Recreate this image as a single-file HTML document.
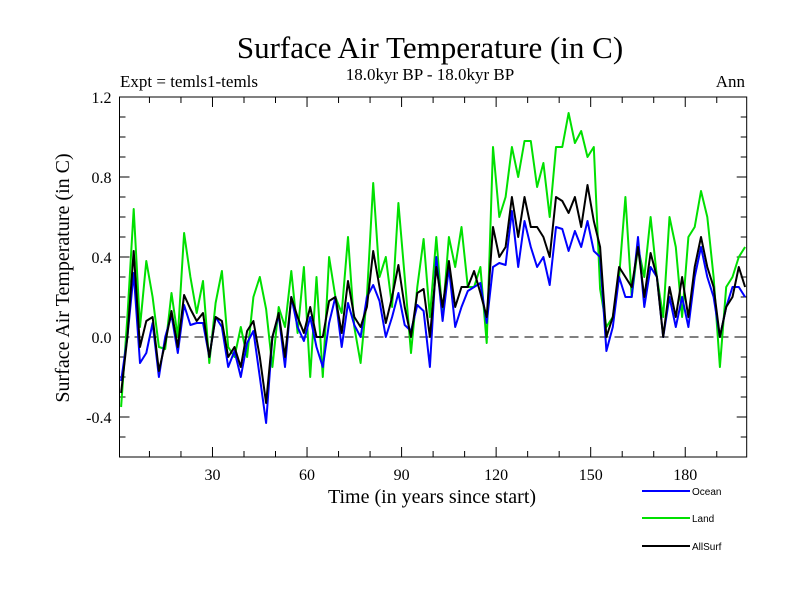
<!DOCTYPE html>
<html><head><meta charset="utf-8"><style>
body{margin:0;background:#fff}
svg text{font-family:"Liberation Serif",serif}
</style></head><body>
<svg id="chart" width="800" height="600" xmlns="http://www.w3.org/2000/svg">
<text x="430" y="58" font-size="31" text-anchor="middle">Surface Air Temperature (in C)</text>
<text x="430" y="80" font-size="17" text-anchor="middle">18.0kyr BP - 18.0kyr BP</text>
<text x="120" y="87" font-size="17">Expt = temls1-temls</text>
<text x="745" y="87" font-size="17" text-anchor="end">Ann</text>
<text transform="translate(69,278) rotate(-90)" font-size="20" text-anchor="middle">Surface Air Temperature (in C)</text>
<text x="432" y="503" font-size="20" text-anchor="middle">Time (in years since start)</text>
<g id="axes"></g>
<g id="series"></g>
<g font-family="Liberation Sans" >
<line x1="642" y1="491" x2="690" y2="491" stroke="#0000ff" stroke-width="2"/>
<text x="692" y="495" font-size="10" style="font-family:'Liberation Sans',sans-serif">Ocean</text>
<line x1="642" y1="518" x2="690" y2="518" stroke="#00e000" stroke-width="2"/>
<text x="692" y="522" font-size="10" style="font-family:'Liberation Sans',sans-serif">Land</text>
<line x1="642" y1="546" x2="690" y2="546" stroke="#000" stroke-width="2"/>
<text x="692" y="550" font-size="10" style="font-family:'Liberation Sans',sans-serif">AllSurf</text>
</g>
</svg>
<script>
const years=[];for(let y=1;y<=199;y+=2)years.push(y);
const land=[-0.35,0.1,0.64,0.05,0.38,0.2,-0.05,-0.06,0.22,0.0,0.52,0.3,0.12,0.28,-0.13,0.17,0.33,-0.05,-0.1,0.05,-0.1,0.2,0.3,0.14,
-0.15,0.15,0.05,0.33,0.02,0.35,-0.2,0.3,-0.2,0.4,0.2,0.12,0.5,0.05,-0.13,0.2,0.77,0.3,0.4,0.15,0.67,0.3,-0.08,0.25,0.49,
0.1,0.5,0.1,0.5,0.35,0.55,0.25,0.25,0.35,-0.03,0.95,0.6,0.7,0.95,0.8,0.98,0.98,0.75,0.87,0.6,0.95,0.95,1.12,0.97,1.03,0.9,
0.95,0.24,0.05,0.1,0.3,0.7,0.2,0.45,0.3,0.6,0.3,0.1,0.6,0.45,0.1,0.5,0.55,0.73,0.6,0.3,-0.15,0.25,0.3,0.4,0.45];
const ocean=[-0.22,0.0,0.32,-0.13,-0.08,0.07,-0.2,0.0,0.11,-0.08,0.16,0.06,0.07,0.07,-0.1,0.1,0.05,-0.15,-0.07,-0.2,-0.03,0.03,-0.2,-0.43,
0.0,0.11,-0.15,0.2,0.05,-0.02,0.1,-0.05,-0.15,0.07,0.2,-0.05,0.17,0.06,0.0,0.2,0.26,0.18,0.0,0.1,0.22,0.06,0.03,0.16,0.13,
-0.15,0.4,0.08,0.35,0.05,0.15,0.23,0.25,0.27,0.07,0.35,0.37,0.36,0.63,0.35,0.58,0.45,0.35,0.4,0.26,0.55,0.54,0.43,0.53,0.45,0.58,
0.43,0.4,-0.07,0.05,0.3,0.2,0.2,0.5,0.15,0.35,0.3,0.0,0.2,0.05,0.2,0.05,0.3,0.45,0.3,0.2,0.0,0.15,0.25,0.25,0.2];
const allsurf=[-0.28,0.0,0.43,-0.05,0.08,0.1,-0.17,-0.03,0.13,-0.05,0.21,0.14,0.08,0.12,-0.1,0.1,0.08,-0.1,-0.05,-0.15,0.03,0.08,-0.1,-0.33,
0.0,0.12,-0.1,0.2,0.1,0.02,0.15,0.0,0.0,0.18,0.2,0.02,0.28,0.1,0.05,0.15,0.43,0.25,0.07,0.2,0.36,0.15,0.0,0.22,0.24,
0.0,0.35,0.15,0.38,0.15,0.25,0.25,0.33,0.22,0.1,0.55,0.4,0.45,0.7,0.5,0.7,0.55,0.55,0.5,0.4,0.7,0.68,0.62,0.7,0.55,0.76,
0.58,0.45,0.0,0.1,0.35,0.3,0.25,0.45,0.2,0.42,0.3,0.0,0.25,0.1,0.3,0.1,0.35,0.5,0.35,0.25,0.0,0.15,0.2,0.35,0.25];
const yTicks=[-0.4,0.0,0.4,0.8,1.2];
const xTicks=[30,60,90,120,150,180];
const L=119.5,R=746.7,T=97,B=457;
const X0=0.5,X1=199.5,Y0=-0.6,Y1=1.2;
const sx=v=>L+(v-X0)/(X1-X0)*(R-L);
const sy=v=>B-(v-Y0)/(Y1-Y0)*(B-T);
const NS="http://www.w3.org/2000/svg";
const ax=document.getElementById('axes');
function mk(tag,attrs,parent){const e=document.createElementNS(NS,tag);for(const k in attrs)e.setAttribute(k,attrs[k]);parent.appendChild(e);return e;}
const frame=mk('rect',{x:L,y:T,width:R-L,height:B-T,fill:'none',stroke:'#000','stroke-width':1},ax);


const zl=mk('line',{x1:L,x2:R,y1:sy(0),y2:sy(0),stroke:'#000','stroke-dasharray':'9,6','stroke-width':1},ax);


for(let i=0;i<=18;i++){const v=Y0+i*0.1;const y=sy(v);const major=Math.abs(Math.round(v*10)%4)===0;const len=major?10:6;
mk('line',{x1:L,x2:L+len,y1:y,y2:y,stroke:'#000'},ax);mk('line',{x1:R-len,x2:R,y1:y,y2:y,stroke:'#000'},ax);}
yTicks.forEach(v=>{const t=mk('text',{x:L-8,y:sy(v)+6,'font-size':16,'text-anchor':'end'},ax);t.textContent=v.toFixed(1);

});
for(let v=10;v<=190;v+=10){const x=sx(v);const len=v%30===0?10:6;
mk('line',{x1:x,x2:x,y1:B,y2:B-len,stroke:'#000'},ax);mk('line',{x1:x,x2:x,y1:T,y2:T+len,stroke:'#000'},ax);}
xTicks.forEach(v=>{const t=mk('text',{x:sx(v),y:B+23,'font-size':16,'text-anchor':'middle'},ax);t.textContent=v;

});
const sg=document.getElementById('series');
function draw(vals,color,name){const d=vals.map((v,i)=>(i?'L':'M')+sx(years[i]).toFixed(1)+','+sy(v).toFixed(1)).join('');
const p=mk('path',{d:d,fill:'none',stroke:color,'stroke-width':2,'stroke-linejoin':'round'},sg);

}
draw(land,'#00e000','land-line');
draw(ocean,'#0000ff','ocean-line');
draw(allsurf,'#000000','allsurf-line');
</script>
</body></html>
